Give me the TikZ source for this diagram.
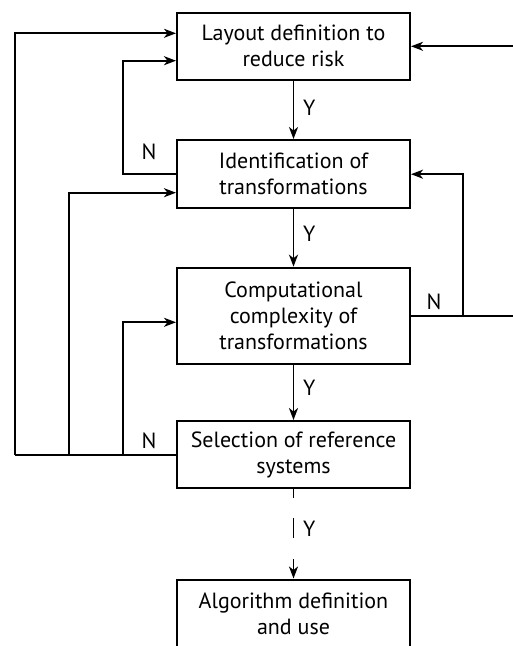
\documentclass[tikz,border=0pt]{standalone}
\usepackage{fontspec}
\setmainfont{PT Sans}
\usetikzlibrary{arrows.meta,calc}
\begin{document}
\begin{tikzpicture}[x=1pt,y=-1pt,
  box/.style={draw, line width=2pt, minimum width=233pt, align=center,
    font=\fontsize{22}{26}\selectfont, inner sep=0pt},
  ln/.style={line width=1.8pt},
  arr/.style={ln, -{Stealth[length=12pt,width=9pt,inset=3.5pt]}},
  lbl/.style={font=\fontsize{22}{26}\selectfont, inner sep=0pt}]
\useasboundingbox (0,0) rectangle (513,646);
\node[box, minimum height=67.3pt] (b1) at (293.5,46.3) {Layout definition to\\reduce risk};
\node[box, minimum height=68.3pt] (b2) at (293.5,174.2) {Identification of\\transformations};
\node[box, minimum height=96.3pt] (b3) at (293.5,315.8) {Computational\\complexity of\\transformations};
\node[box, minimum height=67.3pt] (b4) at (293.5,454.7) {Selection of reference\\systems};
\node[box, minimum height=68pt] (b5) at (293.5,613.5) {Algorithm definition\\and use};
% x positions of the feedback lines
\coordinate (xa) at (15,0);
\coordinate (xb) at (69.3,0);
\coordinate (xc) at (123,0);
\coordinate (xr) at (463.3,0);
\coordinate (redge) at (513,0);
% entry points on the left of the boxes
\coordinate (e1a) at ($(b1.west)+(0,-13)$);
\coordinate (e1b) at ($(b1.west)+(0,14.4)$);
\coordinate (e2) at ($(b2.west)+(0,18.5)$);
\coordinate (e3) at ($(b3.west)+(0,6.5)$);
% main flow
\draw[arr] (b1.south) -- (b2.north);
\draw[arr] (b2.south) -- (b3.north);
\draw[arr] (b3.south) -- (b4.north);
\draw[arr, dash pattern=on 9pt off 20pt on 20pt off 21pt on 40pt] (b4.south) -- (b5.north);
\node[lbl, anchor=west] (y1) at (303,108) {Y};
\node[lbl, anchor=west] (y2) at (303,234) {Y};
\node[lbl, anchor=west] (y3) at (303,388) {Y};
\node[lbl, anchor=west] (y4) at (303,528.3) {Y};
% feedback from box 4
\draw[ln] (b4.west) -- (b4.west -| xa);
\draw[arr] (b4.west -| xa) |- (e1a);
\draw[arr] (b4.west -| xb) |- (e2);
\draw[arr] (b4.west -| xc) |- (e3);
\node[lbl] (n3) at (149,440.7) {N};
% feedback from box 2
\draw[arr] (b2.west) -- (b2.west -| xc) |- (e1b);
\node[lbl] (n1) at (149,152) {N};
% feedback from box 3 (right)
\draw[ln] (b3.east) -- (b3.east -| redge);
\draw[arr] (b3.east -| xr) |- (b2.east);
\node[lbl] (n2) at (434,301.7) {N};
% incoming from the right into box 1
\draw[arr] (b1.east -| redge) -- (b1.east);
\end{tikzpicture}
\end{document}
